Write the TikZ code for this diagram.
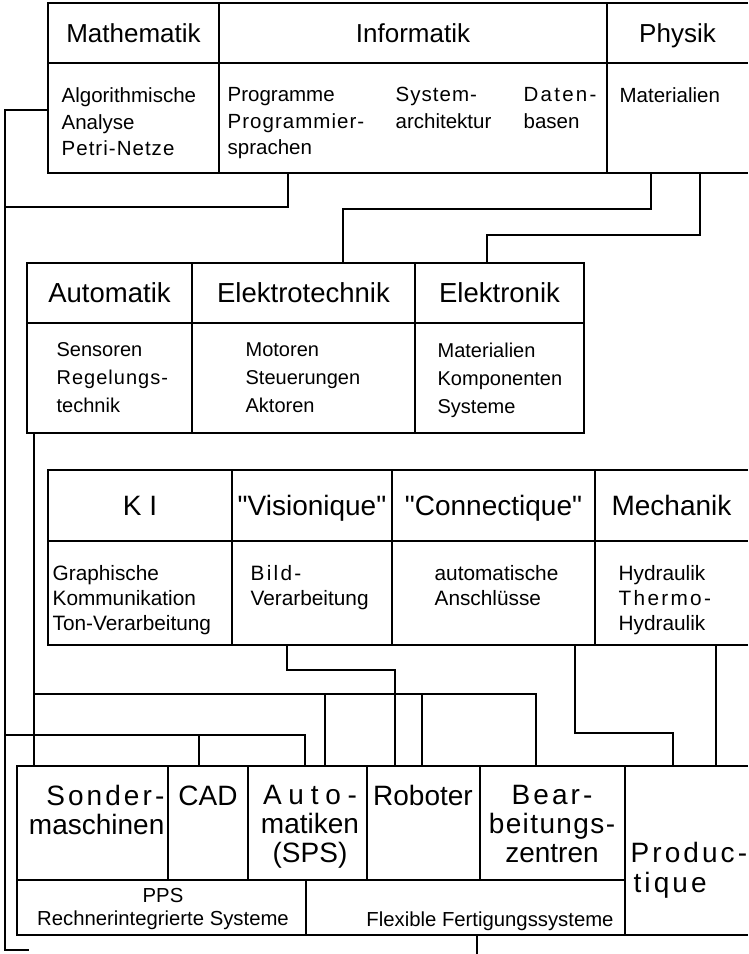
\documentclass[tikz,border=0pt]{standalone}
\usepackage{fontspec}
\setmainfont{Liberation Sans}
\newfontfamily\plainsf{Liberation Sans}
\newfontfamily\spacedsf[LetterSpace=11]{Liberation Sans}
\newfontfamily\lightsf[LetterSpace=5]{Liberation Sans}
\newfontfamily\widesf[LetterSpace=24]{Liberation Sans}
\usepackage{tikz}

\begin{document}
\begin{tikzpicture}[x=1pt,y=-1pt,line width=1.3pt,
  cell/.style={draw=black,anchor=north west,outer sep=0pt},
  opencell/.style={anchor=north west,outer sep=0pt},
  headA/.style={font=\fontsize{26}{28}\selectfont,text height=18.6pt,text depth=0pt},
  headB/.style={font=\fontsize{27.5}{29}\selectfont,text height=19.7pt,text depth=0pt},
  headC/.style={font=\fontsize{28}{30}\selectfont,text height=20pt,text depth=0pt},
  txt/.style={align=left,anchor=north west},
  bodyA/.style={txt,font=\fontsize{20.5}{26.5}\selectfont},
  bodyB/.style={txt,font=\fontsize{20}{28}\selectfont},
  bodyC/.style={txt,font=\fontsize{20.8}{25}\selectfont},
  big/.style={align=center,anchor=north,font=\fontsize{28}{29}\selectfont},
  small/.style={align=center,anchor=north,font=\fontsize{20.3}{23}\selectfont}]
\tikzstyle{every node}+=[inner sep=0pt]
\useasboundingbox (0,0) rectangle (748,954);

\node [cell,headA,minimum width=171pt,minimum height=60pt] (mathH) at (48,3) {Mathematik};
\node [cell,headA,minimum width=388pt,minimum height=60pt] (infoH) at (219,3) {Informatik};
\node [opencell,headA,minimum width=141pt,minimum height=60pt] (physH) at (607,3) {Physik};
\node [cell,minimum width=171pt,minimum height=110pt] (mathB) at (48,63) {};
\node [cell,minimum width=388pt,minimum height=110pt] (infoB) at (219,63) {};
\node [opencell,minimum width=141pt,minimum height=110pt] (physB) at (607,63) {};
\draw [black] (physH.north east) -- (physH.north west) -- (physB.south west) -- (physB.south east);
\draw [black] (physH.south west) -- (physH.south east);
\node [bodyA] (mathT) at (61,87) {Algorithmische\\Analyse\\{\lightsf Petri-Netze}};
\node [bodyA] (progT) at (227,87) {Programme\\{\lightsf Programmier-}\\sprachen};
\node [bodyA] (systT) at (395,87) {{\lightsf System-}\\architektur};
\node [bodyA] (datT) at (523,87) {{\spacedsf Daten-}\\basen};
\node [bodyA] (physT) at (619,87) {Materialien};

\node [cell,headB,minimum width=165pt,minimum height=60pt] (autoH) at (27,263) {Automatik};
\node [cell,headB,minimum width=223pt,minimum height=60pt] (elekH) at (192,263) {Elektrotechnik};
\node [cell,headB,minimum width=169pt,minimum height=60pt] (tronH) at (415,263) {Elektronik};
\node [cell,minimum width=165pt,minimum height=110pt] (autoB) at (27,323) {};
\node [cell,minimum width=223pt,minimum height=110pt] (elekB) at (192,323) {};
\node [cell,minimum width=169pt,minimum height=110pt] (tronB) at (415,323) {};
\node [bodyB] (autoT) at (56,342) {Sensoren\\{\lightsf Regelungs-}\\technik};
\node [bodyB] (elekT) at (245,342) {Motoren\\Steuerungen\\Aktoren};
\node [bodyB] (tronT) at (437,342) {Materialien\\Komponenten\\Systeme};

\node [cell,headC,minimum width=184pt,minimum height=71pt] (kiH) at (48,470) {K I};
\node [cell,headC,minimum width=160pt,minimum height=71pt] (visH) at (232,470) {\plainsf "Visionique"};
\node [cell,headC,minimum width=203pt,minimum height=71pt] (conH) at (392,470) {\plainsf "Connectique"};
\node [opencell,headC,minimum width=153pt,minimum height=71pt] (mechH) at (595,470) {Mechanik};
\node [cell,minimum width=184pt,minimum height=104pt] (kiB) at (48,541) {};
\node [cell,minimum width=160pt,minimum height=104pt] (visB) at (232,541) {};
\node [cell,minimum width=203pt,minimum height=104pt] (conB) at (392,541) {};
\node [opencell,minimum width=153pt,minimum height=104pt] (mechB) at (595,541) {};
\draw [black] (mechH.north east) -- (mechH.north west) -- (mechB.south west) -- (mechB.south east);
\draw [black] (mechH.south west) -- (mechH.south east);
\node [bodyC] (kiT) at (52,565) {Graphische\\Kommunikation\\Ton-Verarbeitung};
\node [bodyC] (visT) at (250,565) {{\spacedsf Bild-}\\Verarbeitung};
\node [bodyC] (conT) at (434,565) {automatische\\Anschlüsse};
\node [bodyC] (mechT) at (618,565) {Hydraulik\\{\spacedsf Thermo-}\\Hydraulik};

\node [cell,minimum width=151pt,minimum height=114pt] (sonder) at (17,766) {};
\node [cell,minimum width=80pt,minimum height=114pt] (cad) at (168,766) {};
\node [cell,minimum width=119pt,minimum height=114pt] (auto) at (248,766) {};
\node [cell,minimum width=113pt,minimum height=114pt] (robo) at (367,766) {};
\node [cell,minimum width=145pt,minimum height=114pt] (bear) at (480,766) {};
\node [opencell,minimum width=123pt,minimum height=169pt] (prod) at (625,766) {};
\node [cell,minimum width=289pt,minimum height=55pt] (pps) at (17,880) {};
\node [cell,minimum width=319pt,minimum height=55pt] (flex) at (306,880) {};
\draw [black] (prod.north east) -- (prod.north west) -- (prod.south west) -- (prod.south east);
\node [big,align=right,anchor=north east] (sonderT) at (165,785) {{\spacedsf Sonder-}\\maschinen};
\node [big] (cadT) at (208,785) {CAD};
\node [big] (autoT2) at (310,785) {{\widesf Auto-}\\matiken\\(SPS)};
\node [big] (roboT) at (423,785) {Roboter};
\node [big] (bearT) at (552,785) {{\spacedsf Bear-}\\{\lightsf beitungs-}\\zentren};
\node [big,align=left,anchor=north west,font=\fontsize{28}{30}\selectfont] (prodT) at (630,842) {{\spacedsf Produc-}\\\hspace*{3pt}{\spacedsf tique}};
\node [small] (ppsT) at (163,888) {PPS\\Rechnerintegrierte Systeme};
\node [small] (flexT) at (490,911) {Flexible Fertigungssysteme};

\coordinate (lnA) at (5,950);
\coordinate (lnB) at (29,950);
\coordinate (inf) at (288,207);
\coordinate (phA) at (651,209);
\coordinate (phB) at (343,209);
\coordinate (phC) at (700,235);
\coordinate (phD) at (487,235);
\coordinate (auA) at (34,694);
\coordinate (auB) at (536,694);
\coordinate (auC) at (325,694);
\coordinate (auD) at (422,694);
\coordinate (viA) at (287,670);
\coordinate (viB) at (395,670);
\coordinate (coA) at (575,733);
\coordinate (coB) at (673,733);
\coordinate (meA) at (716,700);
\coordinate (maA) at (5,735);
\coordinate (maB) at (305,735);
\coordinate (maC) at (199,735);
\coordinate (flA) at (477,954);

\draw [black] ([yshift=8pt]mathB.west) -| (lnA) -- (lnB);
\draw [black] (infoB.south -| inf) -- (inf) -- (inf -| lnA);
\draw [black] (physB.south -| phA) -- (phA) -- (phB) -- (elekH.north -| phB);
\draw [black] (physB.south -| phC) -- (phC) -- (phD) -- (tronH.north -| phD);
\draw [black] (autoB.south -| auA) -- (sonder.north -| auA);
\draw [black] (auA) -- (auB) -- (bear.north -| auB);
\draw [black] (auC) -- (auto.north -| auC);
\draw [black] (auD) -- (robo.north -| auD);
\draw [black] (visB.south -| viA) -- (viA) -- (viB) -- (robo.north -| viB);
\draw [black] (conB.south -| coA) -- (coA) -- (coB) -- (prod.north -| coB);
\draw [black] (mechB.south -| meA) -- (prod.north -| meA);
\draw [black] (maA) -- (maB) -- (auto.north -| maB);
\draw [black] (maC) -- (cad.north -| maC);
\draw [black] (flex.south -| flA) -- (flA);
\end{tikzpicture}
\end{document}
